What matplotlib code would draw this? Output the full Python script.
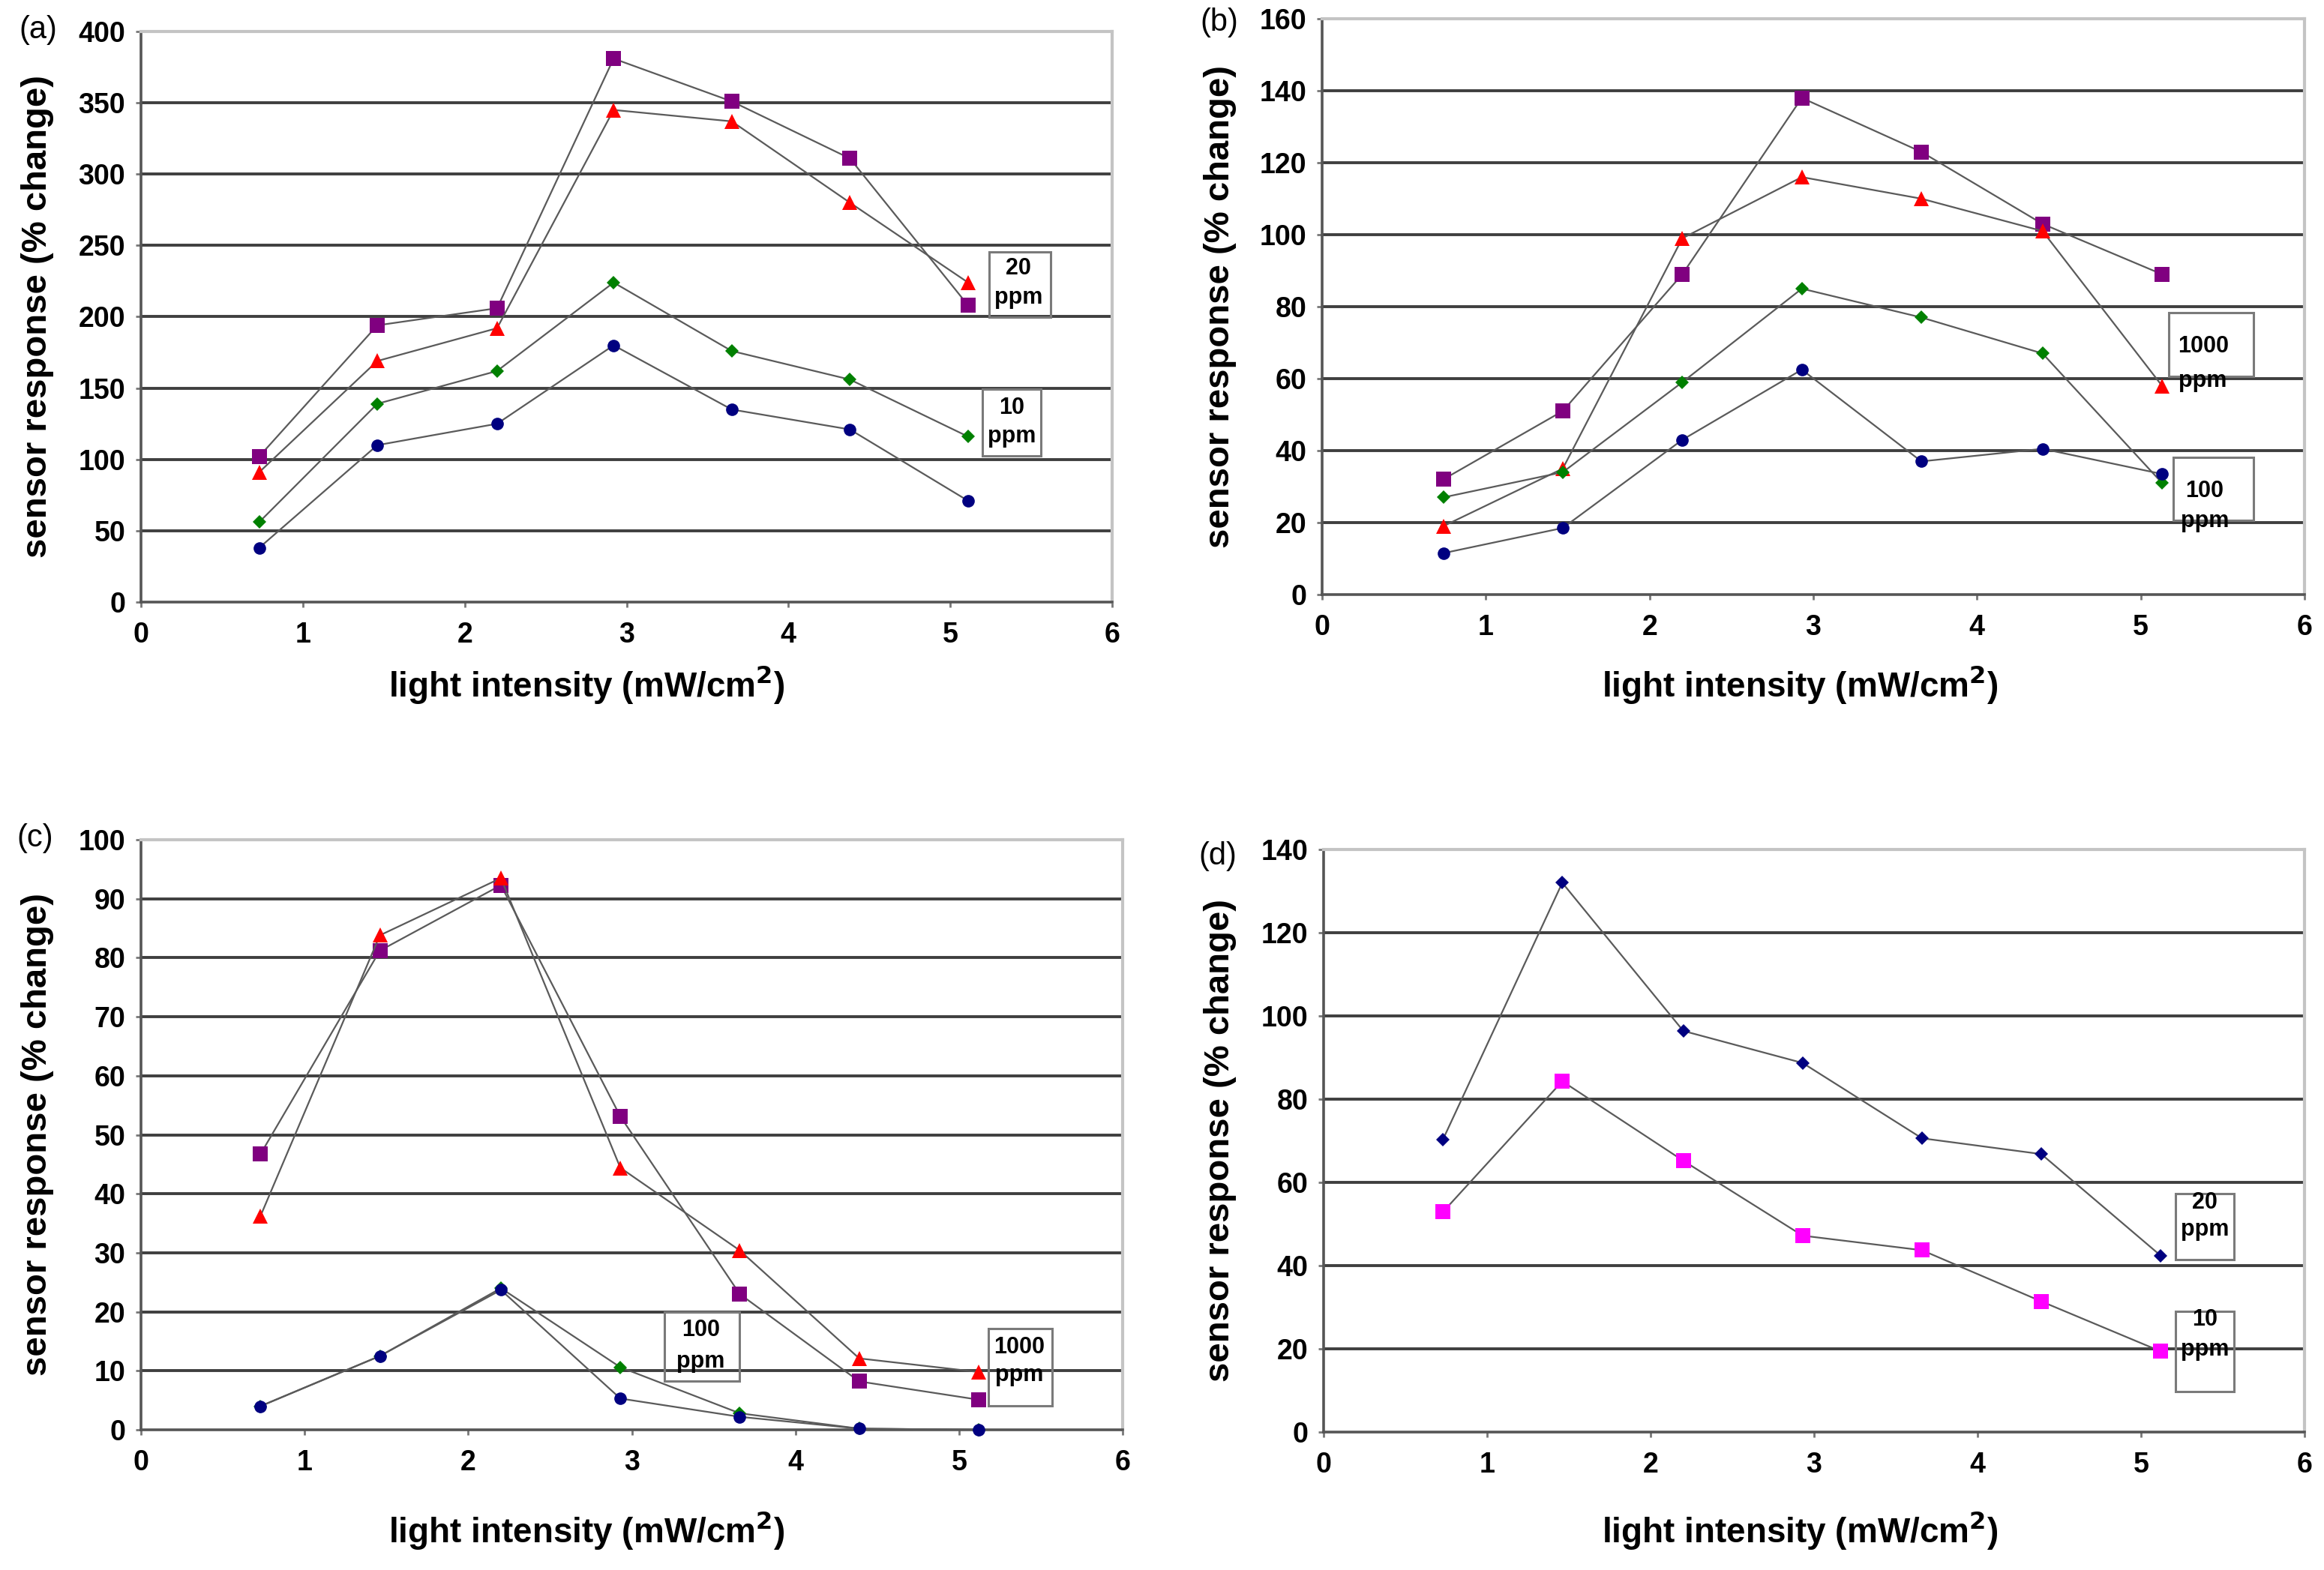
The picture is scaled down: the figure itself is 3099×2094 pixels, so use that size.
import matplotlib
matplotlib.use("Agg")
import matplotlib.pyplot as plt
from matplotlib.patches import Rectangle
import numpy as np

plt.rcParams["font.family"] = ["Liberation Sans", "DejaVu Sans"]

# ── data ─────────────────────────────────────────────────────────────────────
x_a = [0.73, 1.46, 2.20, 2.92, 3.65, 4.38, 5.11]
a_purple = [102, 194, 206, 381, 351, 311, 208]
a_red    = [91, 169, 192, 345, 337, 280, 224]
a_green  = [56, 139, 162, 224, 176, 156, 116]
a_blue   = [38, 110, 125, 180, 135, 121, 71]

x_b = [0.74, 1.47, 2.20, 2.93, 3.66, 4.40, 5.13]
b_purple = [32, 51, 89, 138, 123, 103, 89]
b_red    = [19, 35, 99, 116, 110, 101, 58]
b_green  = [27, 34, 59, 85, 77, 67, 31]
b_blue   = [11.5, 18.5, 43, 62.5, 37, 40.5, 33.5]

x_c = [0.73, 1.46, 2.20, 2.93, 3.66, 4.39, 5.12]
c_purple = [46.7, 81.2, 92.3, 53.1, 23.0, 8.2, 5.1]
c_red    = [36.2, 83.8, 93.5, 44.4, 30.4, 12.1, 9.8]
c_green  = [4.0, 12.5, 24.0, 10.6, 2.8, 0.2, 0.0]
c_blue   = [4.0, 12.5, 23.7, 5.3, 2.2, 0.2, 0.0]

x_d = [0.73, 1.46, 2.20, 2.93, 3.66, 4.39, 5.12]
d_navy    = [70.3, 132, 96.4, 88.7, 70.6, 66.8, 42.4]
d_magenta = [52.9, 84.3, 65.2, 47.2, 43.7, 31.4, 19.4]

xticks = [0, 1, 2, 3, 4, 5, 6]

# ── canvas ───────────────────────────────────────────────────────────────────
W, H = 3099, 2094
fig = plt.figure(figsize=(W / 100, H / 100), dpi=100)
fig.patch.set_facecolor("white")


def px_rect(l, t, r, b):
    return [l / W, 1 - b / H, (r - l) / W, (b - t) / H]


ax_a = fig.add_axes(px_rect(188, 42, 1483, 803))
ax_b = fig.add_axes(px_rect(1763, 25, 3073, 793))
ax_c = fig.add_axes(px_rect(188, 1120, 1497, 1907))
ax_d = fig.add_axes(px_rect(1765, 1133, 3073, 1910))

LINE = "#5a5a5a"
MARK = dict(
    purple=dict(marker="s", color="#800080", ms=14),
    red=dict(marker="^", color="#ff0000", ms=14),
    green=dict(marker="D", color="#008000", ms=9),
    blue=dict(marker="o", color="#000080", ms=12),
    navy=dict(marker="D", color="#000080", ms=9),
    magenta=dict(marker="s", color="#ff00ff", ms=14),
)


def setup(ax, ymax, ystep):
    ax.set_xlim(0, 6)
    ax.set_ylim(0, ymax)
    yt = np.arange(0, ymax + ystep / 2, ystep)
    ax.set_xticks(xticks)
    ax.set_yticks(yt)
    for y in yt[1:-1]:
        ax.axhline(y, color="#3f3f3f", lw=2.8, zorder=1)
    for s in ("left", "bottom"):
        ax.spines[s].set_color("#555555")
        ax.spines[s].set_linewidth(2.6)
    for s in ("top", "right"):
        ax.spines[s].set_color("#c4c4c4")
        ax.spines[s].set_linewidth(3.0)
    ax.tick_params(axis="both", length=5, width=2, color="#777777",
                   labelsize=27, pad=10)
    ax.tick_params(axis="x", pad=14)
    for lab in ax.get_xticklabels() + ax.get_yticklabels():
        lab.set_fontweight("bold")


def series(ax, xs, ys, kind):
    st = MARK[kind]
    ax.plot(xs, ys, color=LINE, lw=1.6, zorder=3, clip_on=False,
            marker=st["marker"], ms=st["ms"], mfc=st["color"],
            mec=st["color"], mew=0)


def ppm_box(ax, x0, x1, y0, y1, top, ty, py, cx):
    ax.add_patch(Rectangle((x0, y0), x1 - x0, y1 - y0, facecolor="none",
                           edgecolor="#7a7a7a", lw=2.2, zorder=4))
    ax.text(cx, ty, top, ha="center", va="center", fontsize=22,
            fontweight="bold", zorder=5)
    ax.text(cx, py, "ppm", ha="center", va="center", fontsize=22,
            fontweight="bold", zorder=5)


# ── (a) ──────────────────────────────────────────────────────────────────────
setup(ax_a, 400, 50)
series(ax_a, x_a, a_purple, "purple")
series(ax_a, x_a, a_red, "red")
series(ax_a, x_a, a_green, "green")
series(ax_a, x_a, a_blue, "blue")
ppm_box(ax_a, 5.24, 5.62, 199.6, 245.7, "20", 234, 213.5, 5.42)
ppm_box(ax_a, 5.20, 5.56, 102.5, 149.5, "10", 136, 116, 5.38)

# ── (b) ──────────────────────────────────────────────────────────────────────
setup(ax_b, 160, 20)
series(ax_b, x_b, b_purple, "purple")
series(ax_b, x_b, b_red, "red")
series(ax_b, x_b, b_green, "green")
series(ax_b, x_b, b_blue, "blue")
ppm_box(ax_b, 5.17, 5.69, 60.7, 78.3, "1000", 69, 59.3, 5.38)
ppm_box(ax_b, 5.20, 5.69, 20.7, 38.2, "100", 28.8, 20.4, 5.39)

# ── (c) ──────────────────────────────────────────────────────────────────────
setup(ax_c, 100, 10)
series(ax_c, x_c, c_purple, "purple")
series(ax_c, x_c, c_red, "red")
series(ax_c, x_c, c_green, "green")
series(ax_c, x_c, c_blue, "blue")
ppm_box(ax_c, 3.20, 3.66, 8.2, 19.9, "100", 16.9, 11.6, 3.42)
ppm_box(ax_c, 5.18, 5.57, 4.1, 17.1, "1000", 14.0, 9.3, 5.37)

# ── (d) ──────────────────────────────────────────────────────────────────────
setup(ax_d, 140, 20)
series(ax_d, x_d, d_navy, "navy")
series(ax_d, x_d, d_magenta, "magenta")
ppm_box(ax_d, 5.21, 5.57, 41.4, 57.3, "20", 55.2, 48.6, 5.39)
ppm_box(ax_d, 5.21, 5.57, 9.8, 29.0, "10", 27.0, 19.8, 5.39)

# ── axis titles and panel letters ────────────────────────────────────────────
ylab = "sensor response (% change)"
xlab = "light intensity (mW/cm$^{\\mathbf{2}}$)"
for (yx, yy), (xx, xy) in [((50, 422), (782, 913)),
                           ((1627, 409), (2400, 913)),
                           ((50, 1513), (782, 2041)),
                           ((1627, 1521), (2400, 2041))]:
    fig.text(yx / W, 1 - yy / H, ylab, rotation=90, ha="center", va="center",
             fontsize=34, fontweight="bold")
    fig.text(xx / W, 1 - xy / H, xlab, ha="center", va="center",
             fontsize=33, fontweight="bold")

for lab, (px, py) in [("(a)", (51, 40)), ("(b)", (1626, 30)),
                      ("(c)", (47, 1118)), ("(d)", (1624, 1142))]:
    fig.text(px / W, 1 - py / H, lab, ha="center", va="center", fontsize=30)

fig.savefig("out.png", dpi=100, facecolor="white")
